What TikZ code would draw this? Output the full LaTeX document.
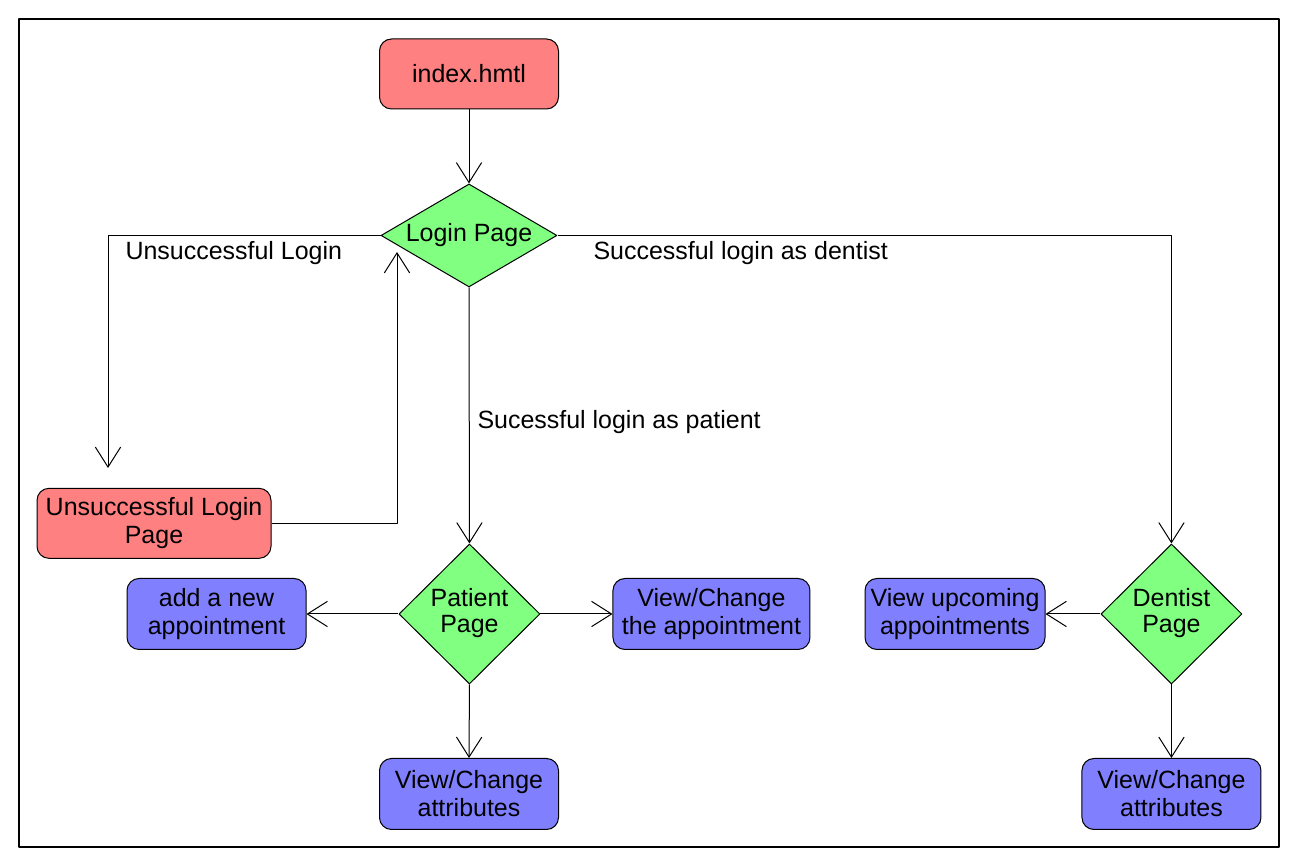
\documentclass[tikz,border=0pt]{standalone}
\usepackage{fontspec}
\setmainfont{Liberation Sans}
\usetikzlibrary{arrows.meta,shapes.geometric}
\definecolor{pagered}{HTML}{FF8080}
\definecolor{pagegreen}{HTML}{80FF80}
\definecolor{pageblue}{HTML}{8080FF}
\begin{document}
\begin{tikzpicture}[>={Straight Barb[length=15bp,width=19bp]},line join=bevel,line width=0.75bp,
  font=\fontsize{18.8}{21}\selectfont,
  redbox/.style={draw,fill=pagered,rounded corners=9bp,align=center,inner sep=0pt},
  bluebox/.style={draw,fill=pageblue,rounded corners=9bp,align=center,inner sep=0pt,minimum height=53.25bp},
  choice/.style={draw,diamond,fill=pagegreen,inner sep=0pt,align=center},
  edgelabel/.style={anchor=west,inner sep=0pt},]
%%
\useasboundingbox (0bp,0bp) rectangle (973.5bp,649.5bp);
\draw [line width=0.9bp] (14.25bp,14.25bp) rectangle (959.25bp,635.25bp);
%%
\node (node_0) at (351.75bp,594bp) [redbox,minimum width=134.25bp,minimum height=52.5bp] {index.hmtl};
  \node (node_1) at (351.75bp,472.9bp) [choice,minimum width=132bp,minimum height=77.25bp,label={center:Login Page}] {};
  \node (node_2) at (115.5bp,257bp) [redbox,minimum width=175.5bp,minimum height=52.5bp] {Unsuccessful Login\\Page};
  \node (node_3) at (352.1bp,189bp) [choice,minimum width=105.75bp,minimum height=105bp,label={center:{\begin{tabular}{@{}c@{}}Patient\\[-2pt]Page\end{tabular}}}] {};
  \node (node_4) at (878.6bp,189bp) [choice,minimum width=105.75bp,minimum height=105bp,label={center:{\begin{tabular}{@{}c@{}}Dentist\\[-2pt]Page\end{tabular}}}] {};
  \node (node_5) at (162.4bp,189bp) [bluebox,minimum width=134.25bp] {add a new\\appointment};
  \node (node_6) at (533.6bp,189bp) [bluebox,minimum width=147.75bp] {View/Change\\the appointment};
  \node (node_7) at (351.75bp,54bp) [bluebox,minimum width=134.25bp] {View/Change\\attributes};
  \node (node_8) at (716.25bp,189bp) [bluebox,minimum width=135bp] {View upcoming\\appointments};
  \node (node_9) at (878.6bp,54bp) [bluebox,minimum width=134.25bp] {View/Change\\attributes};
%
\coordinate (turn_0) at (81bp,298.5bp);
  \coordinate (turn_1) at (297.75bp,460.5bp);
%
\node (label_0) at (93.75bp,459.5bp) [edgelabel] {Unsuccessful Login};
  \node (label_1) at (357.75bp,333bp) [edgelabel] {Sucessful login as patient};
  \node (label_2) at (444.75bp,459.5bp) [edgelabel] {Successful login as dentist};
%%
\draw [black,->] (node_0) -- (node_1);
  \draw [black,->] (node_1.west) -| (turn_0);
  \draw [black,->] (node_2.east) -| (turn_1);
  \draw [black,->] (node_1.south) -- (node_3.north);
  \draw [black,->] (node_1.east) -| (node_4.north);
  \draw [black,->] (node_3.west) -- (node_5.east);
  \draw [black,->] (node_3.east) -- (node_6.west);
  \draw [black,->] (node_3.south) -- (node_7.north);
  \draw [black,->] (node_4.west) -- (node_8.east);
  \draw [black,->] (node_4.south) -- (node_9.north);
%
\end{tikzpicture}
\end{document}
